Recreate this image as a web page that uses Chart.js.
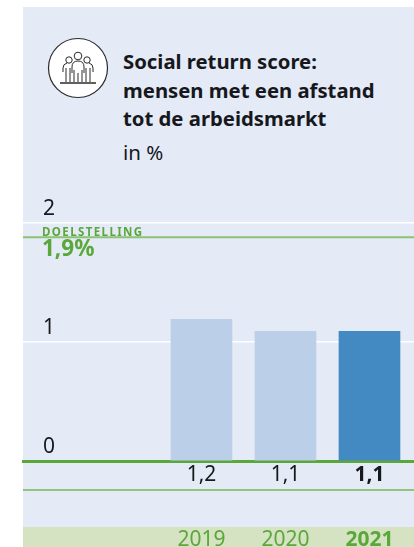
<!DOCTYPE html>
<html>
<head>
<meta charset="utf-8">
<style>
  html, body { margin: 0; padding: 0; background: #fff; overflow: hidden; }
  body { width: 414px; height: 547px; position: relative; font-family: "Noto Sans", sans-serif; color: #16181c; }
  #panel { position: absolute; left: 23px; top: 7px; width: 391px; height: 540px; background: #e4eaf6; }
  #band { position: absolute; left: 23px; top: 527px; width: 391px; height: 20px; background: #d6e3c3; }
  #rule { position: absolute; left: 23px; top: 489px; width: 391px; height: 2px; background: #93c47d; }
  #title { position: absolute; left: 123px; top: 47px; font-size: 20.3px; font-weight: 700; line-height: 28.7px; white-space: nowrap; }
  #unit { position: absolute; left: 123px; top: 138px; font-size: 20.5px; line-height: 28px; }
  #icon { position: absolute; left: 47px; top: 37px; }
  #wrap { position: absolute; left: 0; top: 0; width: 414px; height: 547px; }
</style>
</head>
<body>
<div id="panel"></div>
<div id="band"></div>
<div id="rule"></div>
<svg id="icon" width="62" height="62" viewBox="0 0 62 62" fill="none" stroke="#2a2a2a" stroke-width="1">
  <circle cx="31" cy="31" r="29.5" fill="#fff" stroke-width="1.2"/>
  <circle cx="31" cy="19" r="3.8"/><circle cx="22" cy="23" r="3.2"/><circle cx="40" cy="23" r="3.2"/>
  <path d="M16 35v-4q0-4 4-5M46 35v-4q0-4-4-5M25 30q0-6 6-6t6 6v6M25 30v6"/>
  <path d="M19 31v14M23 31v14M27 33v12M31 36v9M35 33v12M39 31v14M43 31v14"/>
  <path d="M13 46h36" stroke-width="1.4"/>
</svg>
<div id="title">Social return score:<br>mensen met een afstand<br>tot de arbeidsmarkt</div>
<div id="unit">in %</div>
<div id="wrap"><canvas id="chart"></canvas></div>
<script src="https://cdn.jsdelivr.net/npm/chart.js@4"></script>
<script>
const years   = [2019, 2020, 2021];
const scores  = [1.19, 1.09, 1.09];
const valueLabels = ['1,2', '1,1', '1,1'];
const goalValue = 1.88;
const goalCaption = 'DOELSTELLING';
const goalLabel = '1,9%';
const yTicks = [0, 1, 2];

const xMin = 2016.875, xMax = 2021.53;
const INK = '#16181c', GREEN = '#5aa83a';

// value row under the axis + goal caption
const annotations = {
    id: 'annotations',
    afterDraw(chart) {
        const { ctx, scales: { x, y } } = chart;
        ctx.save();
        ctx.textBaseline = 'middle';
        ctx.textAlign = 'center';
        ctx.fillStyle = INK;
        years.forEach((yr, i) => {
            ctx.font = (i === years.length - 1 ? '700 ' : '400 ') + '21px "Noto Sans"';
            ctx.fillText(valueLabels[i], x.getPixelForValue(yr), y.getPixelForValue(0) + 14);
        });
        const gy = y.getPixelForValue(goalValue);
        ctx.textAlign = 'left';
        ctx.fillStyle = GREEN;
        ctx.font = '700 11.5px "Noto Sans"';
        ctx.letterSpacing = '1.4px';
        ctx.fillText(goalCaption, 42, gy - 5);
        ctx.letterSpacing = '0px';
        ctx.font = '700 22.5px "Noto Sans"';
        ctx.fillText(goalLabel, 42, gy + 12);
        ctx.restore();
    },
};

new Chart(document.getElementById('chart'), {
    data: {
        datasets: [
            { type: 'line', data: [{ x: xMin, y: goalValue }, { x: xMax, y: goalValue }], borderColor: '#8cc274', borderWidth: 2, pointRadius: 0, order: 0 },
            { type: 'bar', data: years.map((x, i) => ({ x, y: scores[i] })), backgroundColor: ['#bccfe8', '#bccfe8', '#438ac2'], barThickness: 61, order: 1 },
        ],
    },
    options: {
        responsive: true, maintainAspectRatio: false, animation: false,
        layout: { padding: { left: 23, top: 223, right: 0, bottom: 0 } },
        plugins: { legend: { display: false }, tooltip: { enabled: false } },
        scales: {
            x: {
                type: 'linear', min: xMin, max: xMax, offset: false,
                afterBuildTicks: s => { s.ticks = years.map(value => ({ value })); },
                // labels sit far below the axis, keep that gap out of the side padding
                afterFit: s => { s.height = 86; s.paddingLeft = 0; s.paddingRight = 0; },
                grid: { display: false, drawTicks: false },
                border: { color: GREEN, width: 3 },
                ticks: {
                    padding: 66, maxRotation: 0, autoSkip: false,
                    color: GREEN,
                    font: c => ({ family: '"Noto Sans"', size: 21, weight: c.index === years.length - 1 ? '700' : '400' }),
                    callback: v => String(v),
                },
            },
            y: {
                min: 0, max: 2,
                afterBuildTicks: s => { s.ticks = yTicks.map(value => ({ value })); },
                afterFit: s => { s.width = 0; },
                grid: { color: '#ffffff', lineWidth: 1.5, drawTicks: false },
                border: { display: false },
                ticks: { mirror: true, padding: 20, labelOffset: -14, color: INK, font: { family: '"Noto Sans"', size: 21 }, callback: v => String(v) },
            },
        },
    },
    plugins: [annotations],
});
</script>
</body>
</html>
